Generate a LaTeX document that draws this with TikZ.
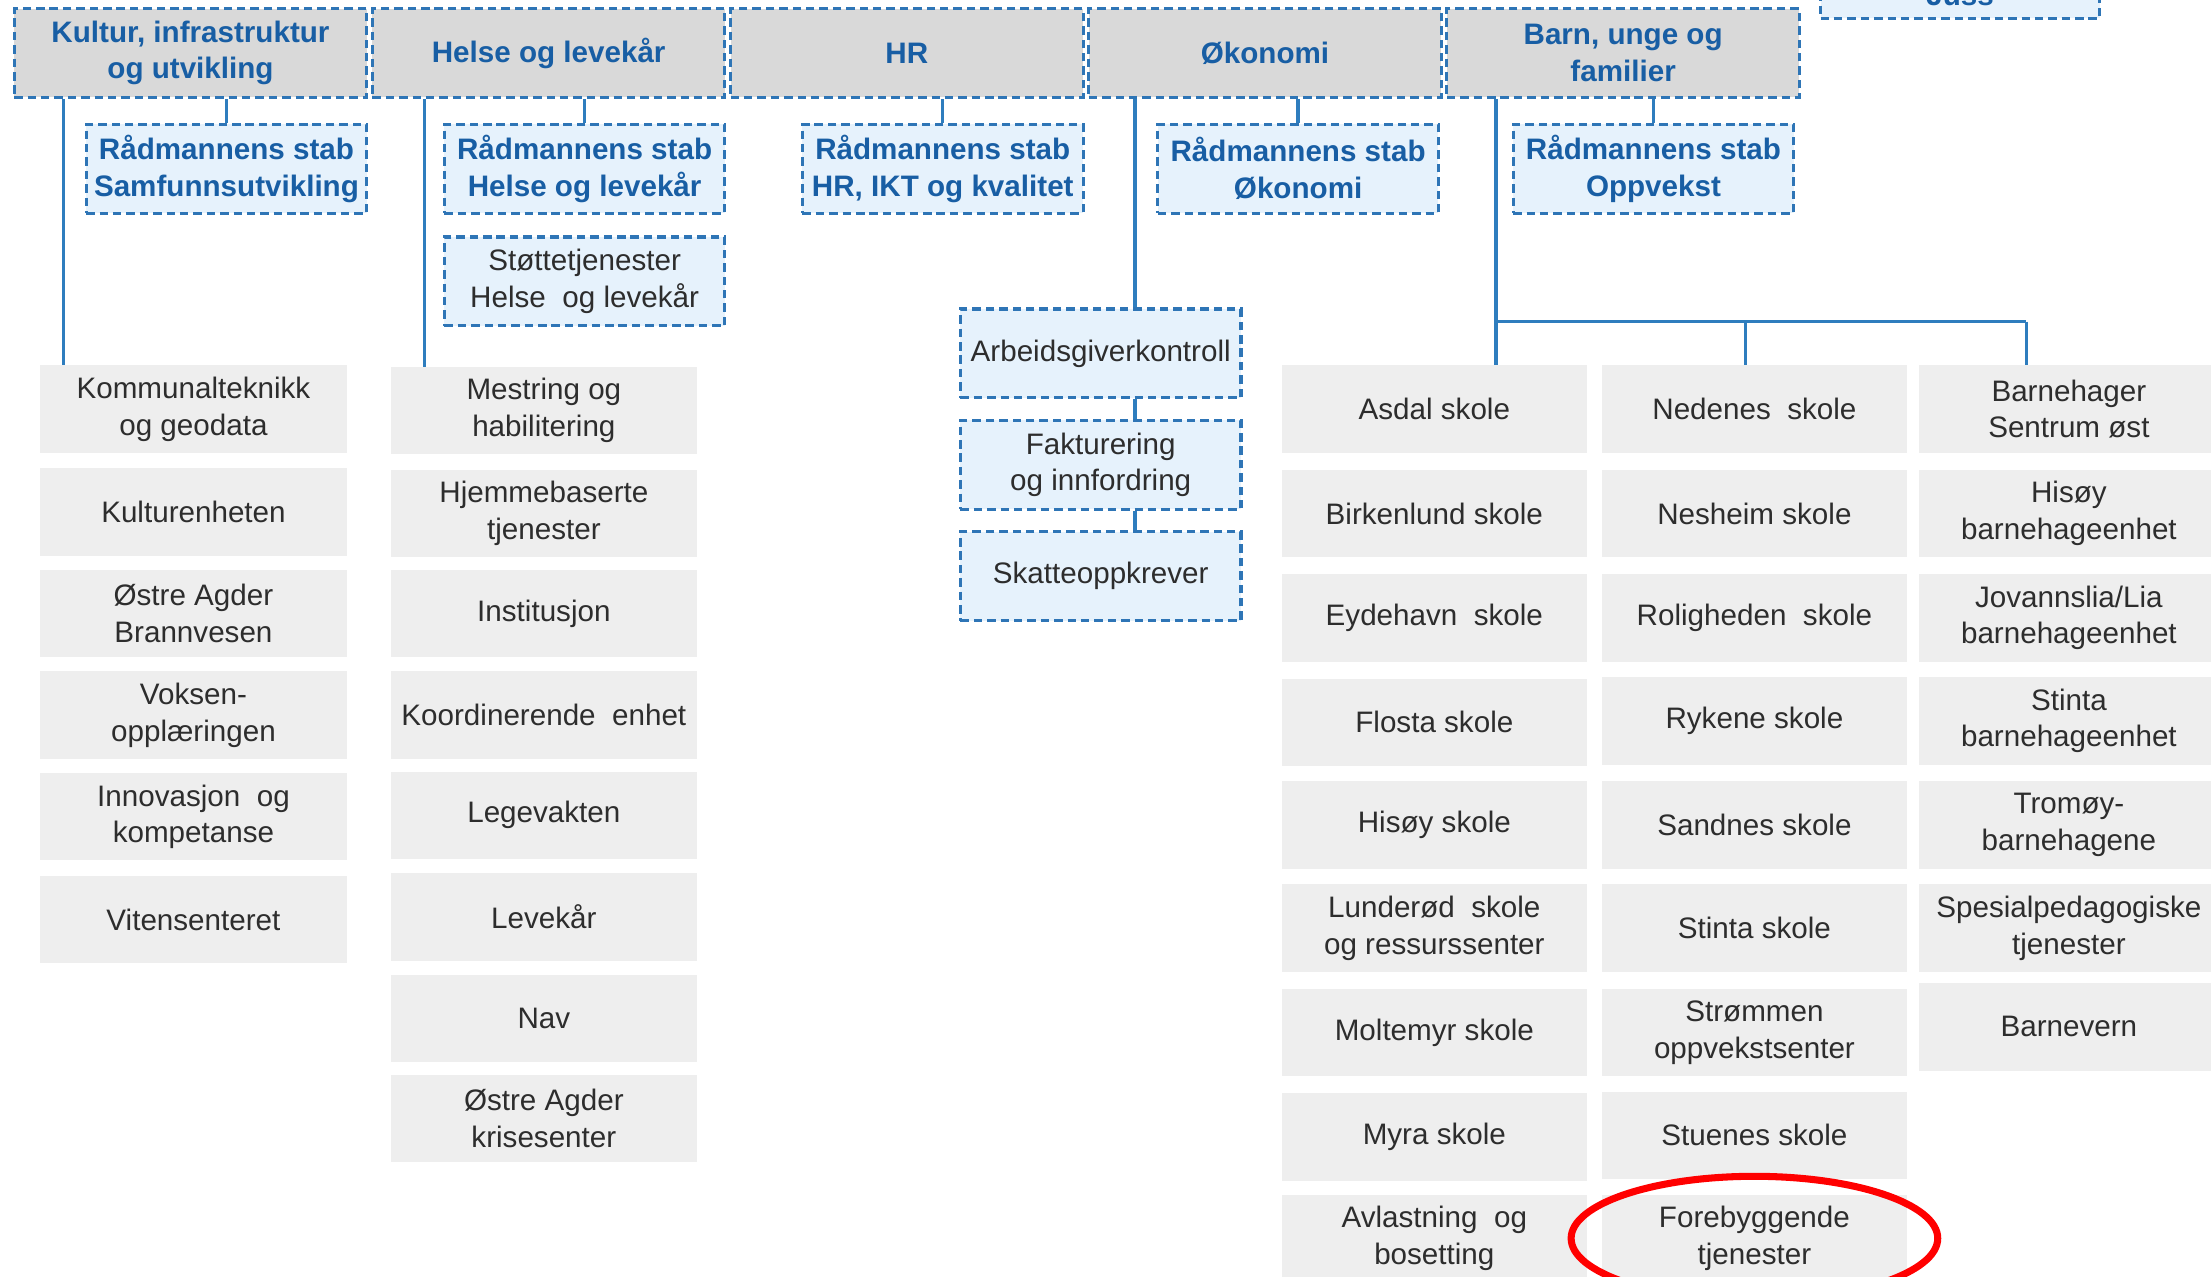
\documentclass[tikz,border=0pt]{standalone}
\usepackage{fontspec}
\setmainfont{Liberation Sans}
\definecolor{hdrgray}{RGB}{217,217,217}
\definecolor{dashblue}{RGB}{46,117,182}
\definecolor{hdrblue}{RGB}{24,94,164}
\definecolor{stabfill}{RGB}{230,242,252}
\definecolor{unitgray}{RGB}{238,238,238}
\definecolor{darktext}{RGB}{45,45,45}
\definecolor{connblue}{RGB}{46,125,190}
\pgfdeclarelayer{bg}
\pgfsetlayers{bg,main}
\begin{document}
\begin{tikzpicture}[x=1pt,y=-1pt,
  box/.style={anchor=north west, inner sep=0pt, align=center,
    font=\fontsize{21}{26}\selectfont},
  dashbox/.style={box, draw=dashblue, line width=2.2pt, dash pattern=on 6pt off 3.5pt},
  hdr/.style={dashbox, fill=hdrgray, text=hdrblue,
    font=\bfseries\fontsize{21}{26}\selectfont, minimum width=250, minimum height=63},
  stab/.style={dashbox, fill=stabfill, text=hdrblue,
    font=\bfseries\fontsize{21}{26}\selectfont, minimum width=199, minimum height=63},
  subbox/.style={dashbox, fill=stabfill, text=darktext, minimum width=199, minimum height=63},
  ubox/.style={box, fill=unitgray, text=darktext, minimum width=217, minimum height=62},
  conn/.style={draw=connblue, line width=2.4pt},
  redring/.style={draw=red, line width=5pt}
]
\useasboundingbox (0,0) rectangle (1568,905);
\clip (0,0) rectangle (1568,905);

% headers
\node[hdr] (h1) at (9,5) {Kultur, infrastruktur\\og utvikling};
\node[hdr] (h2) at (263,5) {Helse og levekår};
\node[hdr] (h3) at (517,5) {HR};
\node[hdr] (h4) at (771,5) {Økonomi};
\node[hdr] (h5) at (1025,5) {Barn, unge og\\familier};

% partially visible box at top right
\node[stab, minimum width=198] (s6) at (1290,-51) {\strut\\Juss};

% staff boxes
\node[stab] (s1) at (60,87) {Rådmannens stab\\Samfunnsutvikling};
\node[stab] (s2) at (314,87) {Rådmannens stab\\Helse og levekår};
\node[subbox] (st) at (314,167) {Støttetjenester\\Helse\ \ og levekår};
\node[stab] (s3) at (568,87) {Rådmannens stab\\HR, IKT og kvalitet};
\node[stab] (s4) at (820,87) {Rådmannens stab\\Økonomi};
\node[stab] (s5) at (1072,87) {Rådmannens stab\\Oppvekst};

% Økonomi sub units
\node[subbox] (ok1) at (680,218) {Arbeidsgiverkontroll};
\node[subbox] (ok2) at (680,297) {Fakturering\\og innfordring};
\node[subbox] (ok3) at (680,376) {Skatteoppkrever};

% column 1
\foreach[count=\i] \yy/\txt in {259/{Kommunalteknikk\\og geodata}, 332/{Kulturenheten},
  404/{Østre Agder\\Brannvesen}, 476/{Voksen-\\opplæringen},
  548/{Innovasjon\ \ og\\kompetanse}, 621/{Vitensenteret}}
  \node[ubox, minimum width=218] (a\i) at (28,\yy) {\txt};

% column 2
\foreach[count=\i] \yy/\txt in {260/{Mestring og\\habilitering}, 333/{Hjemmebaserte\\tjenester},
  404/{Institusjon}, 476/{Koordinerende\ \ enhet}, 547/{Legevakten}, 619/{Levekår},
  691/{Nav}, 762/{Østre Agder\\krisesenter}}
  \node[ubox] (b\i) at (277,\yy) {\txt};

% column 3
\foreach[count=\i] \yy/\txt in {259/{Asdal skole}, 333/{Birkenlund skole},
  407/{Eydehavn\ \ skole}, 481/{Flosta skole}, 554/{Hisøy skole},
  627/{Lunderød\ \ skole\\og ressurssenter}, 701/{Moltemyr skole}, 775/{Myra skole},
  847/{Avlastning\ \ og\\bosetting}}
  \node[ubox, minimum width=216] (d\i) at (909,\yy) {\txt};

% column 4
\foreach[count=\i] \yy/\txt in {259/{Nedenes\ \ skole}, 333/{Nesheim skole},
  407/{Roligheden\ \ skole}, 480/{Rykene skole}, 554/{Sandnes skole},
  627/{Stinta skole}, 701/{Strømmen\\oppvekstsenter}, 774/{Stuenes skole},
  847/{Forebyggende\\tjenester}}
  \node[ubox, minimum width=216] (e\i) at (1136,\yy) {\txt};

% column 5
\foreach[count=\i] \yy/\txt in {259/{Barnehager\\Sentrum øst}, 333/{Hisøy\\barnehageenhet},
  407/{Jovannslia/Lia\\barnehageenhet}, 480/{Stinta\\barnehageenhet},
  554/{Tromøy-\\barnehagene}, 627/{Spesialpedagogiske\\tjenester}, 697/{Barnevern}}
  \node[ubox, minimum width=212] (f\i) at (1361,\yy) {\txt};

% connectors
\coordinate (v1) at (45,0);
\coordinate (v2) at (301,0);
\coordinate (v4) at (805,0);
\coordinate (j1) at (1061,228);
\coordinate (j2) at (1238,228);
\coordinate (j3) at (1437,228);
\begin{pgfonlayer}{bg}
  \draw[conn] (s1.north) -- (s1.north |- h1.south);
  \draw[conn] (s2.north) -- (s2.north |- h2.south);
  \draw[conn] (s3.north) -- (s3.north |- h3.south);
  \draw[conn] (s4.north) -- (s4.north |- h4.south);
  \draw[conn] (s5.north) -- (s5.north |- h5.south);
  \draw[conn] (h1.south -| v1) -- (a1.north -| v1);
  \draw[conn] (h2.south -| v2) -- (b1.north -| v2);
  \draw[conn] (h4.south -| v4) -- (ok1.north -| v4);
  \draw[conn] (ok1.south -| v4) -- (ok2.north -| v4);
  \draw[conn] (ok2.south -| v4) -- (ok3.north -| v4);
  \draw[conn] (h5.south -| j1) -- (j1) -- (j3);
  \draw[conn] (j1) -- (d1.north -| j1);
  \draw[conn] (j2) -- (e1.north -| j2);
  \draw[conn] (j3) -- (f1.north -| j3);
\end{pgfonlayer}

% highlight
\draw[redring] (e9.center) ellipse [x radius=130, y radius=44];
\end{tikzpicture}
\end{document}
